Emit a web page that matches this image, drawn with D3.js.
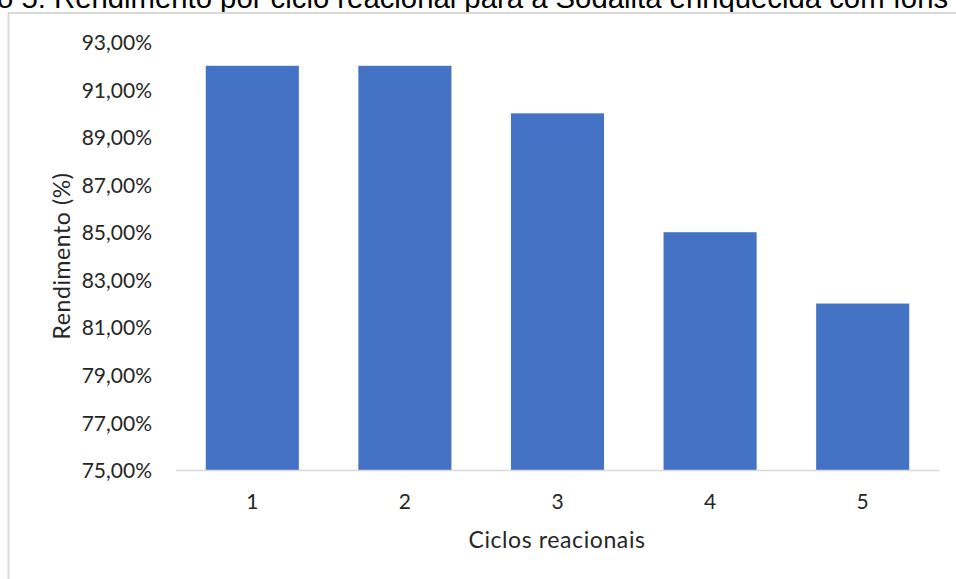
<!DOCTYPE html>
<html><head><meta charset="utf-8">
<script src="https://cdn.jsdelivr.net/npm/d3@7"></script>
<style>body{margin:0;background:#fff;overflow:hidden}svg{display:block}</style>
</head><body>
<script>
const categories = ["1","2","3","4","5"];
const values = [0.92, 0.92, 0.90, 0.85, 0.82];
const yTicks = [0.75,0.77,0.79,0.81,0.83,0.85,0.87,0.89,0.91,0.93];
const titleText = "Gráfico 5: Rendimento por ciclo reacional para a Sodalita enriquecida com íons metálicos";
const xTitle = "Ciclos reacionais";
const yTitle = "Rendimento (%)";

const W = 956, H = 579;
const svg = d3.select("body").append("svg").attr("width", W).attr("height", H);
const font = "Lato, 'Open Sans', sans-serif";

// title (cropped by the top edge, as in the reference)
const tFont = "'Liberation Sans', Arial, sans-serif";
const tSize = 29.3;
const t = svg.append("text").attr("y", 8).attr("font-family",tFont).attr("font-size",tSize).attr("fill","#000").text(titleText);
const meas = svg.append("text").attr("font-family",tFont).attr("font-size",tSize).text("Gráfic");
const off = meas.node().getComputedTextLength(); meas.remove();
t.attr("x", -3 - off);

// chart area border
svg.append("path").attr("d", `M8.5,${H+2} V13 H${W+2}`).attr("fill","none").attr("stroke","#d9d9d9").attr("stroke-width",2);

const x = d3.scaleBand().domain(categories).range([176, 939]).paddingInner(0.39).paddingOuter(0.195);
const y = d3.scaleLinear().domain([0.75, 0.93]).range([470, 42]);

svg.selectAll("rect.bar").data(values).enter().append("rect")
  .attr("class","bar")
  .attr("x",(d,i)=>x(categories[i])).attr("width",x.bandwidth())
  .attr("y",d=>y(d)).attr("height",d=>y(0.75)-y(d))
  .attr("fill","#4472c4");

// baseline
svg.append("line").attr("x1",176).attr("x2",939).attr("y1",y(0.75)+0.5).attr("y2",y(0.75)+0.5).attr("stroke","#d9d9d9").attr("stroke-width",1.5);

const fmt = d => d3.format(".2f")(d*100).replace(".",",") + "%";
const yAxis = svg.append("g").attr("transform","translate(152,0)")
  .call(d3.axisLeft(y).tickValues(yTicks).tickFormat(fmt).tickSize(0).tickPadding(0));
yAxis.select(".domain").remove();
yAxis.selectAll("text").attr("font-family",font).attr("font-size",21).attr("fill","#262626").attr("dy","0.36em");

const xAxis = svg.append("g").attr("transform",`translate(0,${y(0.75)})`)
  .call(d3.axisBottom(x).tickSize(0));
xAxis.select(".domain").remove();
xAxis.selectAll("text").attr("font-family",font).attr("font-size",21).attr("fill","#262626").attr("y",39).attr("dy",0);

svg.append("text").attr("x",557).attr("y",548).attr("text-anchor","middle")
  .attr("font-family",font).attr("font-size",23).attr("letter-spacing",0.6).attr("fill","#262626").text(xTitle);
svg.append("text").attr("transform","translate(70,256) rotate(-90)").attr("text-anchor","middle")
  .attr("font-family",font).attr("font-size",23).attr("letter-spacing",0.6).attr("fill","#262626").text(yTitle);
</script>
</body></html>
